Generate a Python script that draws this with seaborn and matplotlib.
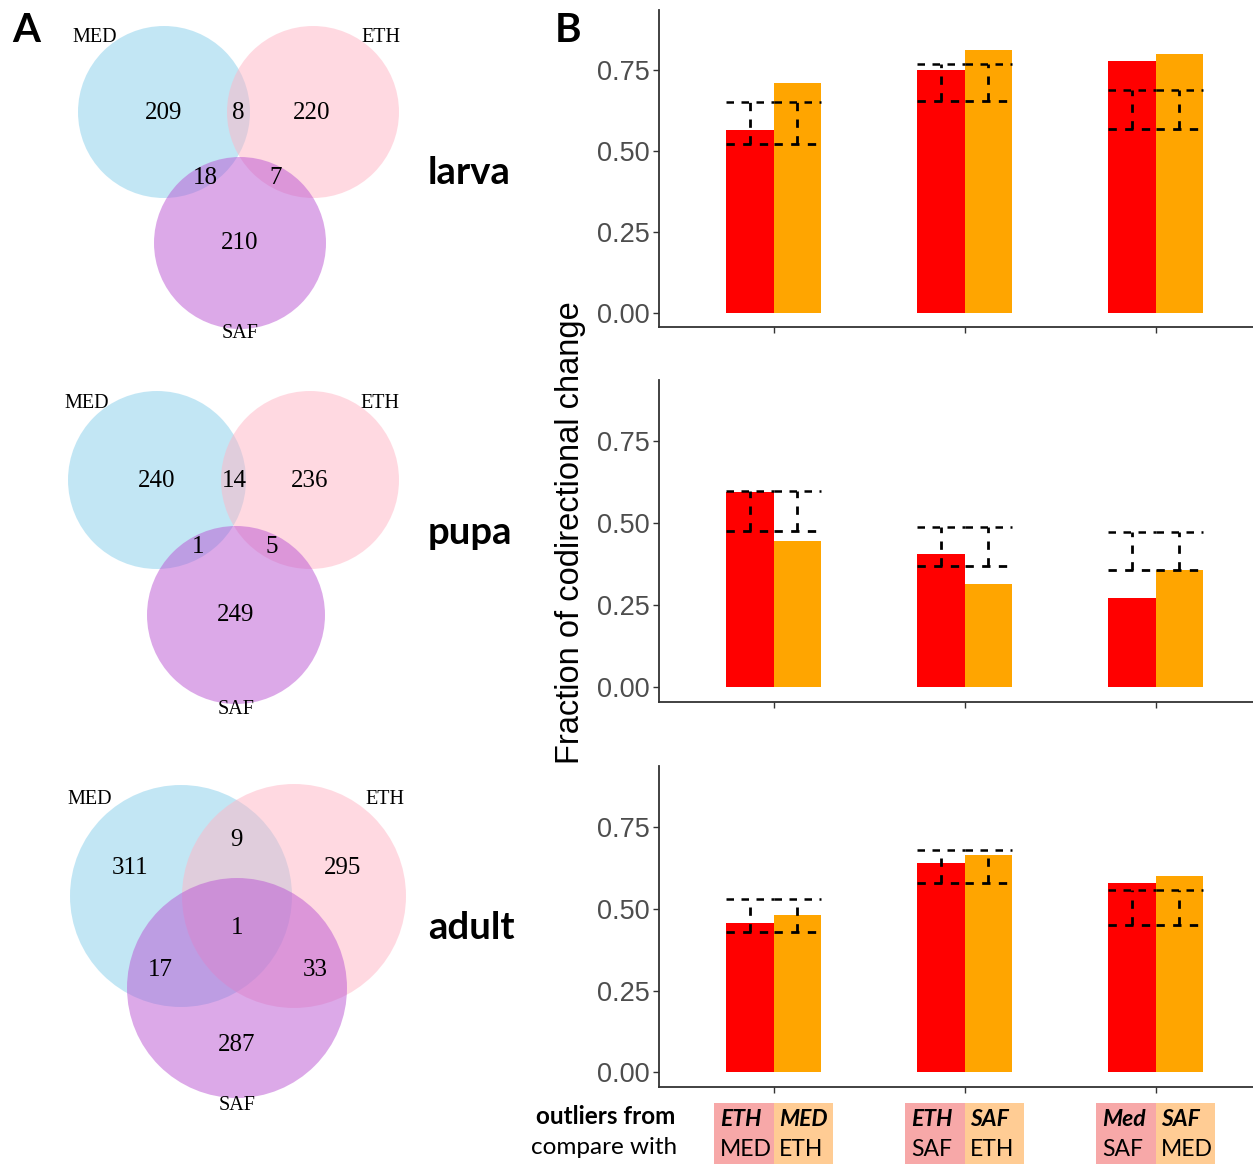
import matplotlib.pyplot as plt
import matplotlib.transforms as mtransforms
from matplotlib.patches import Circle, Rectangle
import seaborn as sns
import numpy as np
import pandas as pd

# 데이터
stages = ['larva', 'pupa', 'adult']
groups = ['ETH-MED', 'ETH-SAF', 'MED-SAF']
series = ['outlier', 'compare']

larva_red = [0.564, 0.751, 0.779]
larva_orange = [0.710, 0.813, 0.800]
larva_lo = [0.523, 0.655, 0.569]
larva_hi = [0.650, 0.770, 0.690]

pupa_red = [0.594, 0.407, 0.272]
pupa_orange = [0.445, 0.315, 0.356]
pupa_lo = [0.475, 0.370, 0.356]
pupa_hi = [0.597, 0.487, 0.473]

adult_red = [0.455, 0.639, 0.579]
adult_orange = [0.482, 0.663, 0.601]
adult_lo = [0.428, 0.579, 0.451]
adult_hi = [0.531, 0.678, 0.556]

outliers_from = [['ETH', 'MED'], ['ETH', 'SAF'], ['Med', 'SAF']]
compare_with = [['MED', 'ETH'], ['SAF', 'ETH'], ['SAF', 'MED']]

# 벤 다이어그램 숫자: MED only, ETH only, SAF only, MED&ETH, MED&SAF, ETH&SAF, all
venn_sets = ['MED', 'ETH', 'SAF']
larva_counts = [209, 220, 210, 8, 18, 7, None]
pupa_counts = [240, 236, 249, 14, 1, 5, None]
adult_counts = [311, 295, 287, 9, 17, 33, 1]

# 데이터프레임 만들기
rows = []
for stage, red, orange in zip(stages, [larva_red, pupa_red, adult_red],
                              [larva_orange, pupa_orange, adult_orange]):
    for g, r, o in zip(groups, red, orange):
        rows.append([stage, g, series[0], r])
        rows.append([stage, g, series[1], o])
df = pd.DataFrame(rows, columns=['stage', 'group', 'series', 'value'])
err_lo = {'larva': larva_lo, 'pupa': pupa_lo, 'adult': adult_lo}
err_hi = {'larva': larva_hi, 'pupa': pupa_hi, 'adult': adult_hi}

sns.set_style('white')
plt.rcParams['font.family'] = ['Liberation Sans', 'DejaVu Sans']
plt.rcParams['text.color'] = 'black'

W, H = 1253, 1164
fig = plt.figure(figsize=(W / 100, H / 100), dpi=100)

# ---- B: 막대그래프 ----
panel_px = [(10, 327), (380, 702), (766, 1087)]
left_px = 659
axes = []
for (top, bot) in panel_px:
    ax = fig.add_axes([left_px / W, 1 - bot / H, (W - left_px) / W, (bot - top) / H])
    axes.append(ax)

for ax, stage in zip(axes, stages):
    d = df[df['stage'] == stage]
    sns.barplot(data=d, x='group', y='value', hue='series', order=groups,
                hue_order=series, palette=['#FF0000', '#FFA500'], width=0.5,
                gap=0, saturation=1, errorbar=None, legend=False, linewidth=0, ax=ax)
    lo = np.array(err_lo[stage])
    hi = np.array(err_hi[stage])
    for off in [-0.125, 0.125]:
        xs = np.arange(len(groups)) + off
        ax.hlines(hi, xs - 0.125, xs + 0.125, colors='black', linestyles=(0, (3, 3)), lw=1.8, zorder=5)
        ax.hlines(lo, xs - 0.125, xs + 0.125, colors='black', linestyles=(0, (3, 3)), lw=2.0, zorder=5)
        ax.vlines(xs, lo, hi, colors='black', linestyles=(0, (3, 3)), lw=2.0, zorder=5)
    ax.set_xlim(-0.6, 2.51)
    ax.set_ylim(-0.0445, 0.936)
    ax.set_yticks([0, 0.25, 0.5, 0.75])
    ax.set_yticklabels(['0.00', '0.25', '0.50', '0.75'])
    ax.set_xticks([0, 1, 2])
    ax.set_xticklabels([])
    ax.set_xlabel('')
    ax.set_ylabel('')
    for s in ['top', 'right']:
        ax.spines[s].set_visible(False)
    for s in ['left', 'bottom']:
        ax.spines[s].set_color('#333333')
        ax.spines[s].set_linewidth(1.3)
    ax.tick_params(axis='both', length=4, width=1, color='#333333', labelsize=19.5,
                   labelcolor='#4D4D4D', left=True, bottom=True, pad=3)

fig.text(570 / W, 1 - 533 / H, 'Fraction of codirectional change', rotation=90,
         ha='center', va='center', fontsize=23.5, color='black')

# 아래 표
ax3 = axes[2]
trans = mtransforms.blended_transform_factory(ax3.transData, fig.transFigure)
box_top = 1 - 1103 / H
for i in range(len(groups)):
    for j, col in enumerate(['#F7A8A8', '#FFCC94']):
        x0 = i - 0.31 + j * 0.31
        ax3.add_patch(Rectangle((x0, 0), 0.31, box_top, transform=trans, facecolor=col,
                                edgecolor='none', clip_on=False))
        ax3.text(x0 + 0.03, 1 - 1119 / H, outliers_from[i][j], transform=trans, ha='left',
                 va='center', fontsize=16.5, fontweight='bold', fontstyle='italic',
                 family=['Lato', 'DejaVu Sans'])
        ax3.text(x0 + 0.03, 1 - 1149 / H, compare_with[i][j], transform=trans, ha='left',
                 va='center', fontsize=16.5, family=['Lato', 'DejaVu Sans'])
fig.text(675 / W, 1 - 1116 / H, 'outliers from', ha='right', va='center', fontsize=17.5,
         fontweight='bold', family=['Lato', 'DejaVu Sans'])
fig.text(677 / W, 1 - 1148 / H, 'compare with', ha='right', va='center', fontsize=17.5,
         family=['Lato', 'DejaVu Sans'])

# ---- A: 벤 다이어그램 ----
axv = fig.add_axes([0, 0, 520 / W, 1])
axv.set_xlim(0, 520)
axv.set_ylim(H, 0)
axv.axis('off')

venn_colors = ['skyblue', '#FFB5C5', 'mediumorchid']
venn_layout = {
    'larva': dict(circles=[(164, 112, 86), (313, 112, 86), (240, 243, 86)],
                  regions=[(164, 113), (312, 113), (240, 243), (238, 113), (205, 178), (276, 178), (240, 160)],
                  names=[(95, 38), (381, 38), (240, 333)], stage=(428, 173)),
    'pupa': dict(circles=[(157, 480, 89), (310, 480, 89), (236, 615, 89)],
                 regions=[(157, 481), (310, 481), (236, 615), (234, 481), (198, 547), (272, 547), (234, 520)],
                 names=[(87, 403), (380, 403), (236, 709)], stage=(428, 533)),
    'adult': dict(circles=[(181, 896, 111), (294, 896, 112), (237, 988, 110)],
                  regions=[(130, 868), (343, 868), (237, 1045), (236, 840), (160, 970), (315, 970), (237, 928)],
                  names=[(90, 800), (385, 800), (237, 1105)], stage=(428, 928)),
}
counts_by_stage = {'larva': larva_counts, 'pupa': pupa_counts, 'adult': adult_counts}

for stage in stages:
    lay = venn_layout[stage]
    for (cx, cy, r), col in zip(lay['circles'], venn_colors):
        axv.add_patch(Circle((cx, cy), r, facecolor=col, alpha=0.5, edgecolor='none'))
    for (tx, ty), c in zip(lay['regions'], counts_by_stage[stage]):
        if c is None:
            continue
        axv.text(tx, ty, str(c), ha='center', va='center', fontsize=18,
                 family=['Liberation Serif', 'DejaVu Serif'])
    for (tx, ty), name in zip(lay['names'], venn_sets):
        axv.text(tx, ty, name, ha='center', va='center', fontsize=14.5,
                 family=['Liberation Serif', 'DejaVu Serif'])
    sx, sy = lay['stage']
    axv.text(sx, sy, stage, ha='left', va='center', fontsize=27.5, fontweight='bold',
             family=['Lato', 'DejaVu Sans'])

fig.text(12 / W, 1 - 42 / H, 'A', ha='left', va='baseline', fontsize=29, fontweight='bold',
         family=['Lato', 'DejaVu Sans'])
fig.text(555 / W, 1 - 42 / H, 'B', ha='left', va='baseline', fontsize=29, fontweight='bold',
         family=['Lato', 'DejaVu Sans'])

fig.savefig('out.png', dpi=100)
